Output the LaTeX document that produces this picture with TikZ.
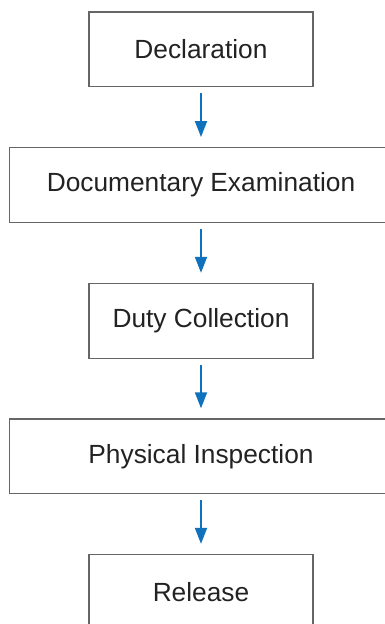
\documentclass[tikz,border=0pt]{standalone}
\usepackage{fontspec}
\setmainfont{Liberation Sans}
\usetikzlibrary{arrows.meta}
\definecolor{boxline}{HTML}{666666}
\definecolor{arrowblue}{HTML}{1071BD}
\definecolor{txt}{HTML}{222222}
\tikzset{
  stepbox/.style={draw=boxline, line width=1.2pt, minimum height=74.7pt, inner sep=0pt,
    text=txt, font=\fontsize{26.3}{30}\selectfont},
  narrowbox/.style={stepbox, minimum width=224pt},
  widebox/.style={stepbox, minimum width=383.4pt},
  flow/.style={draw=arrowblue, line width=1.8pt, -{Triangle[length=16pt,width=12pt]},
    shorten <=6pt, shorten >=10pt}
}
\begin{document}
\begin{tikzpicture}[x=1pt,y=-1pt]
\useasboundingbox (0,0) rectangle (385,624);
\clip (0,0) rectangle (385,624);
\node[narrowbox] (decl) at (201,49.3) {Declaration};
\node[widebox] (doc) at (201,185) {Documentary Examination};
\node[narrowbox] (duty) at (201,320.8) {Duty Collection};
\node[widebox] (phys) at (201,456.3) {Physical Inspection};
\node[narrowbox] (rel) at (201,591.8) {Release};
\draw[flow] (decl.south) -- (doc.north);
\draw[flow] (doc.south) -- (duty.north);
\draw[flow] (duty.south) -- (phys.north);
\draw[flow] (phys.south) -- (rel.north);
\end{tikzpicture}
\end{document}
